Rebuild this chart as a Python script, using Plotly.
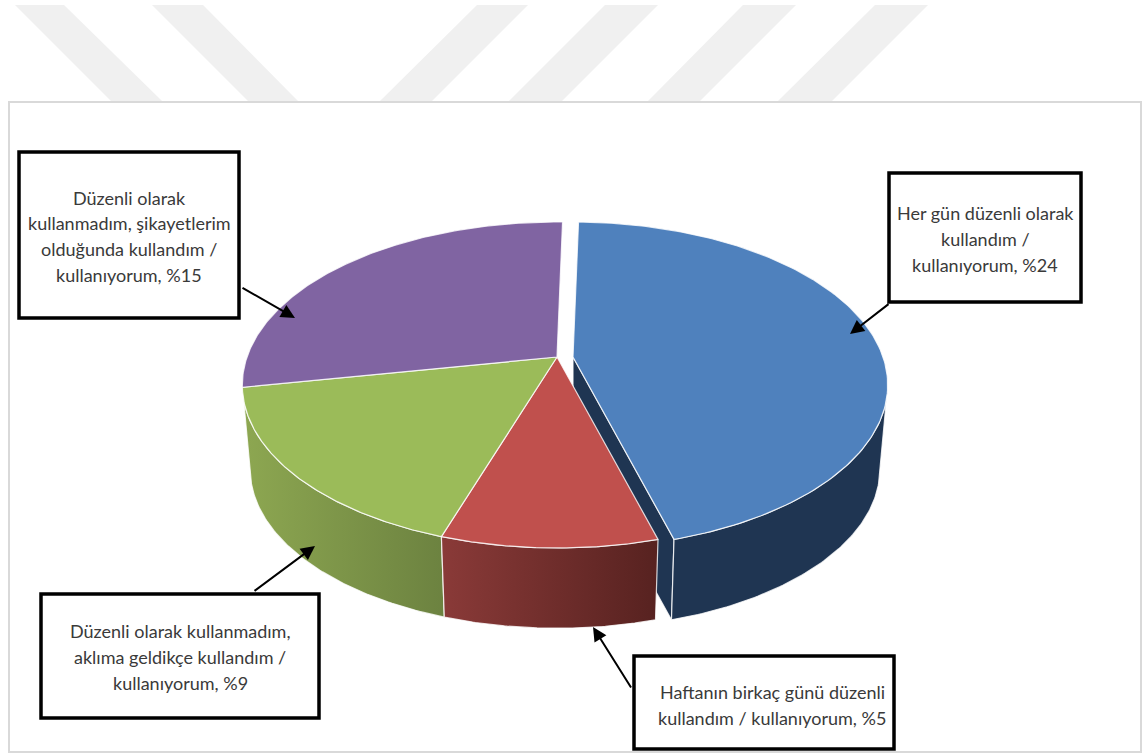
import numpy as np
import plotly.graph_objects as go

# Usage shares, clockwise from twelve o'clock
usage_values = [24, 5, 9, 15]
label_stems = [
    ["Her gün düzenli olarak", "kullandım /", "kullanıyorum, "],
    ["Haftanın birkaç günü düzenli", "kullandım / kullanıyorum, "],
    ["Düzenli olarak kullanmadım,", "aklıma geldikçe kullandım /", "kullanıyorum, "],
    ["Düzenli olarak", "kullanmadım, şikayetlerim", "olduğunda kullandım /", "kullanıyorum, "],
]
top_colors = ["#4F81BD", "#C0504D", "#9BBB59", "#8064A2"]
side_left = ["#1F3552", "#8A3A38", "#8DA751", "#5E4A78"]
side_right = ["#1F3552", "#572220", "#6C8240", "#5E4A78"]
explode_x = [16, 0, 0, 0]

# Projection of the tilted disc onto the page
CX, CY = 557.0, 357.0
RX, RY, PERSPECTIVE = 310.0, 158.2, 0.1718
BOTTOM_SCALE, BOTTOM_DROP = 0.975, 85.0
FIRST_ANGLE = 1.2
# Angles where the wall's outline leaves the top rim
FRONT_START, FRONT_END = 105.0, 255.0


def project(theta_deg, radius=1.0, dx=0.0, bottom=False):
    t = np.radians(theta_deg)
    depth = radius * np.cos(t)
    factor = 1 + PERSPECTIVE * depth
    x = RX * radius * np.sin(t) / factor
    y = -RY * depth / factor
    if bottom:
        x, y = x * BOTTOM_SCALE, y * BOTTOM_SCALE + BOTTOM_DROP
    return CX + dx + x, CY + y


edges = FIRST_ANGLE + np.cumsum([0] + usage_values) / sum(usage_values) * 360
EDGE = "rgba(255,255,255,0.8)"
fig = go.Figure()


def add_poly(xs, ys, **style):
    fig.add_trace(go.Scatter(
        x=list(xs), y=list(ys), mode="lines", fill="toself",
        line=dict(color=EDGE, width=1.2), hoverinfo="skip", showlegend=False, **style))


# Cut face of the pulled-out slice, seen behind the neighbouring wedge
end = edges[1]
tx, ty = project(np.array([end]), dx=explode_x[0])
bx, by = project(np.array([end]), dx=explode_x[0], bottom=True)
ax0, ay0 = project(np.array([0.0]), radius=0.0, dx=explode_x[0])
ax1, ay1 = project(np.array([0.0]), radius=0.0, dx=explode_x[0], bottom=True)
add_poly([ax0[0], tx[0], bx[0], ax1[0], ax0[0]], [ay0[0], ty[0], by[0], ay1[0], ay0[0]],
         fillcolor=side_left[0])

# Outer walls, back to front so the wedge in the middle overlaps its neighbours
for i in [3, 2, 0, 1]:
    lo, hi = max(edges[i], FRONT_START), min(edges[i + 1], FRONT_END)
    if hi <= lo:
        continue
    arc = np.linspace(lo, hi, 80)
    x1, y1 = project(arc, dx=explode_x[i])
    x2, y2 = project(arc, dx=explode_x[i], bottom=True)
    xs = np.concatenate([x1, x2[::-1], x1[:1]])
    ys = np.concatenate([y1, y2[::-1], y1[:1]])
    add_poly(xs, ys, fillcolor=side_left[i], fillgradient=dict(
        type="horizontal",
        colorscale=[[0, side_left[i]], [1, side_right[i]]]))

# Top faces
for i, value in enumerate(usage_values):
    arc = np.linspace(edges[i], edges[i + 1], 160)
    x, y = project(arc, dx=explode_x[i])
    ax, ay = project(np.array([0.0]), radius=0.0, dx=explode_x[i])
    add_poly(np.concatenate([ax, x, ax]), np.concatenate([ay, y, ay]), fillcolor=top_colors[i])

# Callout boxes: left, top, right, bottom, text centre, text baselines, leader start and tip
callouts = [
    dict(box=(889, 173, 1081, 302), cx=985, ys=(213, 239, 265), start=(890, 303), tip=(850, 334)),
    dict(box=(634, 656, 894, 749), cx=772, ys=(692, 718), start=(632, 689), tip=(593, 627)),
    dict(box=(41, 594, 319, 718), cx=180, ys=(631, 657, 683), start=(253, 592), tip=(315, 546)),
    dict(box=(19, 152, 239, 318), cx=129, ys=(198, 223, 249, 275), start=(241, 287), tip=(295, 318)),
]

shapes = [
    # Frame around the chart
    dict(type="rect", xref="x", yref="y", x0=9, y0=102, x1=1141, y1=752,
         line=dict(color="#D9D9D9", width=2), fillcolor="rgba(0,0,0,0)", layer="below"),
]
# Faint page stamp above the frame
for top0, top1, bot0, bot1 in [(15, 64, 111, 162), (152, 203, 248, 298), (477, 528, 380, 432),
                               (605, 658, 509, 562), (743, 796, 648, 700), (875, 928, 778, 832)]:
    shapes.append(dict(type="path", xref="x", yref="y", layer="below", line=dict(width=0),
                       fillcolor="#F0F0F0",
                       path=f"M{top0},5 L{top1},5 L{bot1},101 L{bot0},101 Z"))

annotations = []
for c, stems, value in zip(callouts, label_stems, usage_values):
    x0, y0, x1, y1 = c["box"]
    shapes.append(dict(type="rect", xref="x", yref="y", x0=x0, y0=y0, x1=x1, y1=y1,
                       line=dict(color="#000000", width=3.5), fillcolor="#FFFFFF", layer="above"))
    lines = list(stems)
    lines[-1] = f"{lines[-1]}%{value}"
    for line, y in zip(lines, c["ys"]):
        annotations.append(dict(x=c["cx"], y=y, xref="x", yref="y", text=line, showarrow=False,
                                xanchor="center", yanchor="middle",
                                font=dict(family="Lato", size=18, color="#3A3A3A")))
    annotations.append(dict(x=c["tip"][0], y=c["tip"][1], xref="x", yref="y",
                            ax=c["start"][0], ay=c["start"][1], axref="x", ayref="y",
                            text="", showarrow=True, arrowhead=2, arrowsize=1.4,
                            arrowwidth=2, arrowcolor="#000000", standoff=0))

fig.update_layout(
    width=1147, height=754, autosize=False,
    margin=dict(l=0, r=0, t=0, b=0),
    paper_bgcolor="#FFFFFF", plot_bgcolor="#FFFFFF",
    xaxis=dict(range=[0, 1147], visible=False, fixedrange=True),
    yaxis=dict(range=[754, 0], visible=False, fixedrange=True),
    shapes=shapes, annotations=annotations,
)

fig.write_html("out.html", config=dict(displayModeBar=False))
